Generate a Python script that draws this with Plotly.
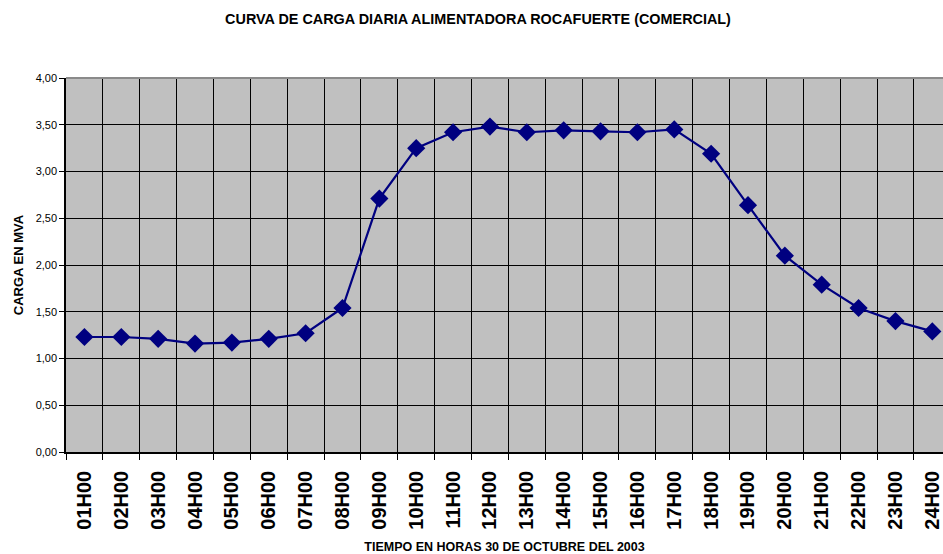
import plotly.graph_objects as go

hours = ["01H00", "02H00", "03H00", "04H00", "05H00", "06H00", "07H00", "08H00",
         "09H00", "10H00", "11H00", "12H00", "13H00", "14H00", "15H00", "16H00",
         "17H00", "18H00", "19H00", "20H00", "21H00", "22H00", "23H00", "24H00"]
carga_mva = [1.23, 1.23, 1.21, 1.16, 1.17, 1.21, 1.27, 1.54,
             2.71, 3.25, 3.42, 3.48, 3.42, 3.44, 3.43, 3.42,
             3.45, 3.19, 2.64, 2.10, 1.79, 1.54, 1.40, 1.29]
y_tick_vals = [0.0, 0.5, 1.0, 1.5, 2.0, 2.5, 3.0, 3.5, 4.0]
y_tick_text = ["0,00", "0,50", "1,00", "1,50", "2,00", "2,50", "3,00", "3,50", "4,00"]

FONT = "Liberation Sans, Arial, sans-serif"
idx = list(range(len(hours)))

fig = go.Figure()
fig.add_trace(go.Scatter(
    x=idx, y=carga_mva, mode="lines+markers",
    line=dict(color="#000080", width=2.2),
    marker=dict(symbol="diamond", size=14, color="#000080"),
    showlegend=False, cliponaxis=False,
))

fig.update_layout(
    width=943, height=554,
    margin=dict(l=66, r=0, t=78, b=102),
    paper_bgcolor="white",
    plot_bgcolor="#C0C0C0",
    font=dict(family=FONT, color="black"),
    title=dict(text="<b>CURVA DE CARGA DIARIA ALIMENTADORA ROCAFUERTE (COMERCIAL)</b>",
               x=478/943, xanchor="center", y=1-19/554, yanchor="middle",
               font=dict(size=14.4, family=FONT, color="black")),
    xaxis=dict(
        range=[-0.5, 23.29],
        tickmode="array", tickvals=idx, ticktext=hours,
        tickangle=-90,
        tickfont=dict(size=20, family=FONT, weight="bold", color="black"),
        ticks="", showgrid=False, zeroline=False,
        showline=True, linecolor="black", linewidth=1.5,
        ticklabelstandoff=9,
        minor=dict(tick0=0.5, dtick=1, showgrid=True, gridcolor="black",
                   gridwidth=1, ticks="outside", ticklen=6, tickcolor="black"),
        title=dict(text="<b>TIEMPO EN HORAS 30 DE OCTUBRE DEL 2003</b>",
                   font=dict(size=12.5, family=FONT, color="black"), standoff=15),
    ),
    yaxis=dict(
        range=[0, 4], tickmode="array", tickvals=y_tick_vals, ticktext=y_tick_text,
        tickfont=dict(size=11, family=FONT, color="black"),
        ticks="outside", ticklen=5, tickcolor="black",
        showgrid=True, gridcolor="black", gridwidth=1, zeroline=False,
        showline=True, linecolor="black", linewidth=1.5,
        title=dict(text="<b>CARGA EN MVA</b>",
                   font=dict(size=13, family=FONT, color="black"), standoff=9),
    ),
)

fig.add_shape(type="line", xref="paper", yref="paper", x0=0, x1=1, y0=1, y1=1,
              line=dict(color="#8A8A8A", width=2))

fig.write_html("out.html",
               config={"displayModeBar": False},
               post_script="document.body.style.margin='0px';document.body.style.overflow='hidden';")
